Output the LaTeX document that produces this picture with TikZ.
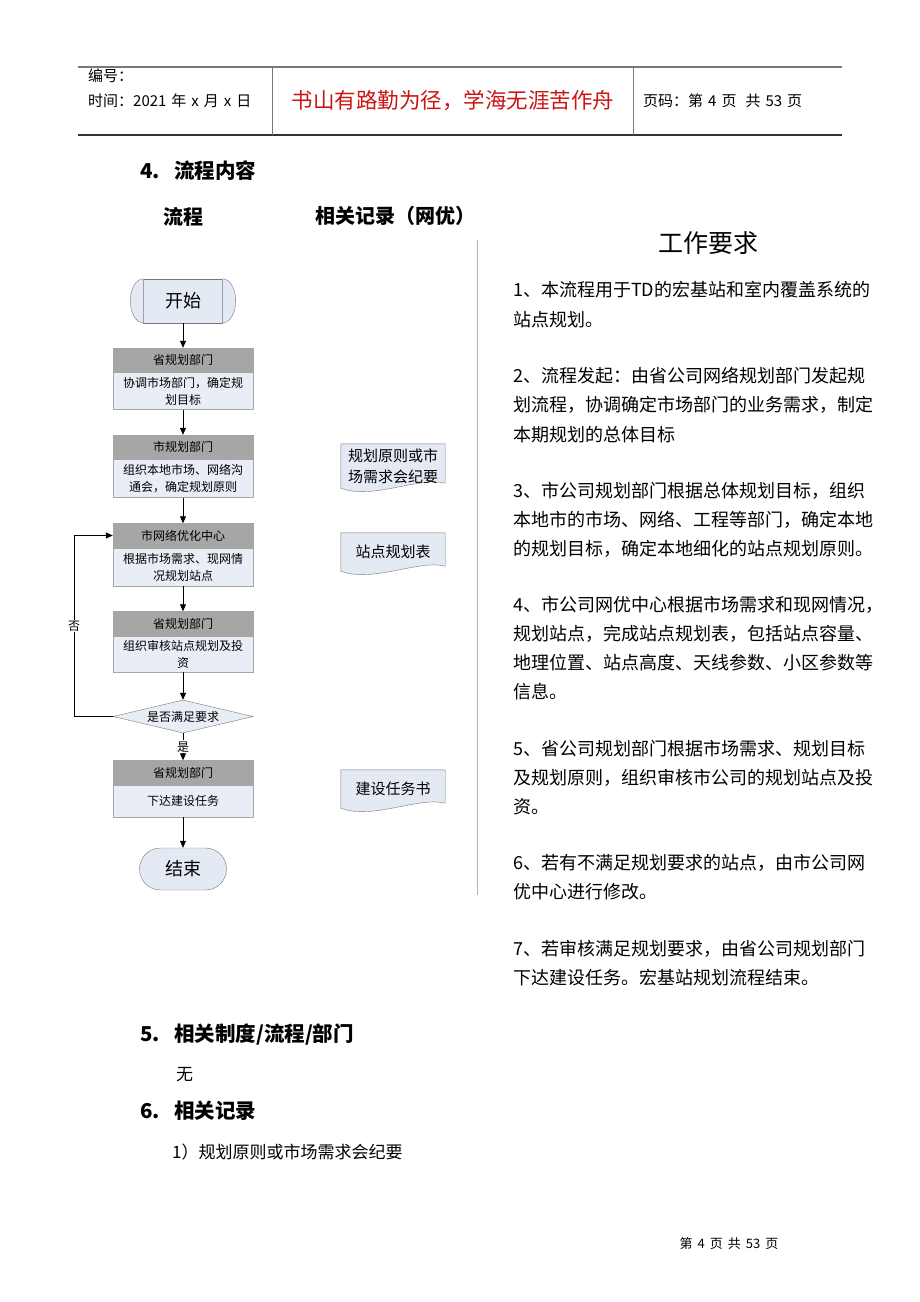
\documentclass[tikz,border=0pt]{standalone}
\usepackage{fontspec}
\setmainfont{Noto Sans CJK SC}
\usetikzlibrary{positioning,shapes.geometric,arrows.meta,backgrounds}

\definecolor{deptgray}{RGB}{166,166,166}
\definecolor{taskblue}{RGB}{233,238,246}
\definecolor{shapeblue}{RGB}{228,234,243}
\definecolor{linegray}{RGB}{120,120,120}
\definecolor{mottored}{RGB}{204,20,20}

\tikzset{
  dept/.style={draw=gray!70, fill=deptgray, minimum width=140pt, minimum height=24pt,
    inner sep=0pt, font=\fontsize{12}{14}\selectfont},
  task/.style={draw=gray!70, fill=taskblue, minimum width=140pt, minimum height=37pt,
    inner sep=0pt, align=center, font=\fontsize{12}{17}\selectfont},
  term/.style={draw=linegray, fill=shapeblue, inner sep=0pt, font=\fontsize{18}{20}\selectfont},
  record/.style={minimum width=104pt, inner sep=0pt, align=center, font=\fontsize{15}{21}\selectfont},
  flow/.style={-{Triangle[length=7pt,width=6pt]}, black, line width=0.8pt},
  req/.style={anchor=west, inner sep=0pt, font=\fontsize{18}{20}\selectfont},
  sectitle/.style={anchor=west, inner sep=0pt, font=\fontsize{20.5}{22}\selectfont\bfseries},
  hdr/.style={anchor=west, inner sep=0pt, font=\fontsize{15}{17}\selectfont},
}

% wavy bottom of a record shape
\newcommand\recshape[1]{%
  \draw[linegray, fill=shapeblue] (#1.south west) -- (#1.north west) -- (#1.north east)
    -- ([yshift=5pt]#1.south east)
    .. controls ([xshift=-26pt,yshift=12pt]#1.south east) and ([xshift=32pt,yshift=-12pt]#1.south west)
    .. (#1.south west) -- cycle;}
\newcommand\gap{\hspace{5pt}}

\begin{document}
\begin{tikzpicture}[x=1pt,y=-1pt]
  \useasboundingbox (0,0) rectangle (920,1302);
  \begin{scope}[on background layer]
    \fill[white] (0,0) rectangle (920,1302);
  \end{scope}

  % page header
  \draw[linegray, line width=1.2pt] (78,67) -- (842,67);
  \draw[black!80, line width=1.2pt] (78,135) -- (842,135);
  \draw[linegray] (272,67) -- (272,135);
  \draw[linegray] (633,67) -- (633,135);
  \node[hdr] (code) at (88,76) {编号：};
  \node[hdr] (time) at (88,101) {时间：2021\gap 年\gap x\gap 月\gap x\gap 日};
  \node[font=\fontsize{21.5}{24}\selectfont, text=mottored] (motto) at (453,101)
    {书山有路勤为径，学海无涯苦作舟};
  \node[hdr] (page) at (643,101) {页码：第\gap 4\gap 页\hspace{9pt}共\gap 53\gap 页};

  % headings
  \node[sectitle] (sec4) at (140,171) {4.\hspace{0.7em}流程内容};
  \node[font=\fontsize{20}{22}\selectfont\bfseries] (colflow) at (183,217) {流程};
  \node[font=\fontsize{20}{22}\selectfont\bfseries] (colrec) at (395,216) {相关记录（网优）};
  \node[font=\fontsize{25}{27}\selectfont] (colreq) at (708,243) {工作要求};
  \draw[gray!60] (477,240) -- (477,895);

  % flow chart
  \node[term, minimum width=79pt, minimum height=44pt] (start) at (183,301) {开始};
  \draw[linegray, fill=shapeblue] (start.north west)
    arc[start angle=90, end angle=270, x radius=13pt, y radius=22pt];
  \draw[linegray, fill=shapeblue] (start.north east)
    arc[start angle=90, end angle=-90, x radius=13pt, y radius=22pt];

  \node[dept] (s1h) at (183,360) {省规划部门};
  \node[task, below=0pt of s1h] (s1b) {协调市场部门，确定规\\划目标};
  \node[dept] (s2h) at (183,447) {市规划部门};
  \node[task, below=0pt of s2h, minimum height=38pt] (s2b) {组织本地市场、网络沟\\通会，确定规划原则};
  \node[dept] (s3h) at (183,535.5) {市网络优化中心};
  \node[task, below=0pt of s3h, minimum height=38pt] (s3b) {根据市场需求、现网情\\况规划站点};
  \node[dept] (s4h) at (183,623.5) {省规划部门};
  \node[task, below=0pt of s4h, minimum height=36pt] (s4b) {组织审核站点规划及投\\资};
  \node[diamond, draw=linegray, fill=taskblue, minimum width=140pt, minimum height=33pt,
    aspect=4.2, inner sep=0pt, font=\fontsize{12}{14}\selectfont] (chk) at (183,716.5) {是否满足要求};
  \node[dept] (s5h) at (183,772.5) {省规划部门};
  \node[task, below=0pt of s5h, minimum height=32pt] (s5b) {下达建设任务};
  \node[term, rounded corners=21pt, minimum width=87pt, minimum height=42pt] (finish) at (183,869) {结束};

  \draw[flow] (start) -- (s1h);
  \draw[flow] (s1b) -- (s2h);
  \draw[flow] (s2b) -- (s3h);
  \draw[flow] (s3b) -- (s4h);
  \draw[flow] (s4b) -- (chk);
  \draw[flow] (chk) -- (s5h)
    node[midway, fill=white, inner sep=1pt, font=\fontsize{12}{14}\selectfont] (yes) {是};
  \draw[flow] (s5b) -- (finish);
  \coordinate (back) at (74,716.5);
  \draw[flow] (chk.west) -- (back) |- (s3h.west)
    node[pos=0.25, fill=white, inner sep=1pt, font=\fontsize{12}{14}\selectfont] (no) {否};

  % records
  \node[record, minimum height=44pt] (rec1) at (393,466) {规划原则或市\\场需求会纪要};
  \node[record, minimum height=38pt] (rec2) at (393,552) {站点规划表};
  \node[record, minimum height=38pt] (rec3) at (393,789) {建设任务书};
  \begin{scope}[on background layer]
    \recshape{rec1}
    \recshape{rec2}
    \recshape{rec3}
  \end{scope}

  % requirements
  \node[req] (r1a) at (513,290) {1、本流程用于TD的宏基站和室内覆盖系统的};
  \node[req] (r1b) at (513,320) {站点规划。};
  \node[req] (r2a) at (513,376) {2、流程发起：由省公司网络规划部门发起规};
  \node[req] (r2b) at (513,405) {划流程，协调确定市场部门的业务需求，制定};
  \node[req] (r2c) at (513,435) {本期规划的总体目标};
  \node[req] (r3a) at (513,491) {3、市公司规划部门根据总体规划目标，组织};
  \node[req] (r3b) at (513,520) {本地市的市场、网络、工程等部门，确定本地};
  \node[req] (r3c) at (513,549) {的规划目标，确定本地细化的站点规划原则。};
  \node[req] (r4a) at (513,605) {4、市公司网优中心根据市场需求和现网情况，};
  \node[req] (r4b) at (513,634) {规划站点，完成站点规划表，包括站点容量、};
  \node[req] (r4c) at (513,663) {地理位置、站点高度、天线参数、小区参数等};
  \node[req] (r4d) at (513,692) {信息。};
  \node[req] (r5a) at (513,749) {5、省公司规划部门根据市场需求、规划目标};
  \node[req] (r5b) at (513,778) {及规划原则，组织审核市公司的规划站点及投};
  \node[req] (r5c) at (513,807) {资。};
  \node[req] (r6a) at (513,863) {6、若有不满足规划要求的站点，由市公司网};
  \node[req] (r6b) at (513,892) {优中心进行修改。};
  \node[req] (r7a) at (513,949) {7、若审核满足规划要求，由省公司规划部门};
  \node[req] (r7b) at (513,978) {下达建设任务。宏基站规划流程结束。};

  % further sections
  \node[sectitle] (sec5) at (140,1034) {5.\hspace{0.7em}相关制度/流程/部门};
  \node[req, font=\fontsize{17}{19}\selectfont] (none) at (176,1075) {无};
  \node[sectitle] (sec6) at (140,1111) {6.\hspace{0.7em}相关记录};
  \node[req, font=\fontsize{17}{19}\selectfont] (rec1item) at (172,1152) {1）规划原则或市场需求会纪要};

  \node[font=\fontsize{13}{15}\selectfont] (foot) at (729,1244)
    {第\gap 4\gap 页\gap 共\gap 53\gap 页};
\end{tikzpicture}
\end{document}
